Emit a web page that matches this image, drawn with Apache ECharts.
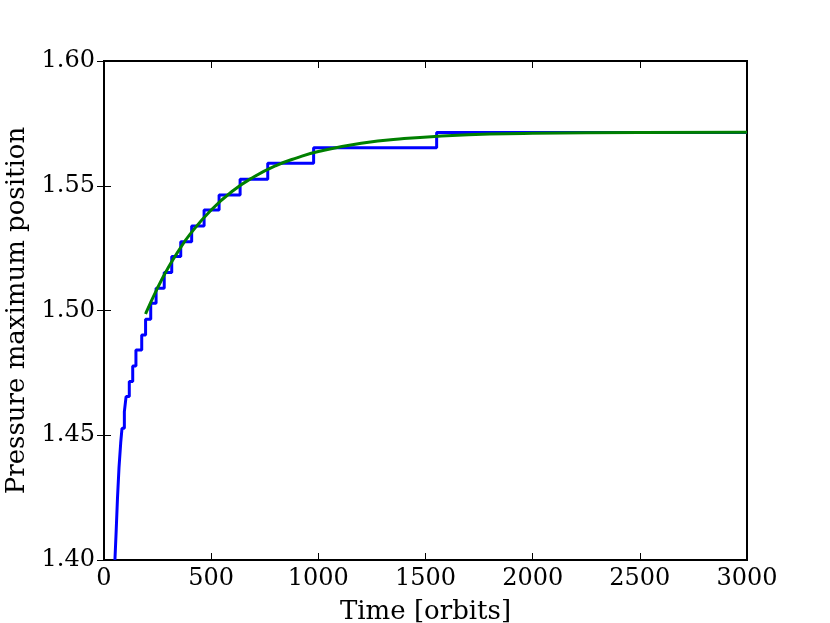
<!DOCTYPE html>
<html>
<head>
<meta charset="utf-8">
<script src="https://cdn.jsdelivr.net/npm/echarts@6/dist/echarts.min.js"></script>
<style>
  html, body { margin: 0; padding: 0; background: #fff; }
  #chart { width: 830px; height: 623px; }
</style>
</head>
<body>
<div id="chart"></div>
<script>
// step-wise measured position (blue): level starts at given time
const stepTimes = [51, 57, 63, 70, 78, 84, 95, 103, 118, 134, 149, 176, 194, 218, 243, 281, 316, 358,
    409, 467, 537, 635, 764, 978, 1552, 3000];
const stepLevels = [1.400, 1.412, 1.425, 1.437, 1.447, 1.4528, 1.4595, 1.4655, 1.4715, 1.4778, 1.4842,
    1.4902, 1.4965, 1.5029, 1.5089, 1.5152, 1.5216, 1.5276, 1.5339, 1.5403, 1.5463, 1.5526,
    1.5590, 1.5652, 1.5713, 1.5713];

// fitted curve (green)
const fitTimes = [194, 200, 250, 300, 350, 400, 500, 600, 700, 800, 900, 1000, 1200, 1400, 1600,
    1800, 2000, 2500, 3000];
const fitValues = [1.4986, 1.4998, 1.5091, 1.5172, 1.5242, 1.5304, 1.5403, 1.5479, 1.5536, 1.5580,
    1.5612, 1.5637, 1.5670, 1.5689, 1.5700, 1.5707, 1.5710, 1.5713, 1.5714];

const xTicks = [0, 500, 1000, 1500, 2000, 2500, 3000];
const yTicks = [1.40, 1.45, 1.50, 1.55, 1.60];

const font = 'DejaVu Serif';
const chart = echarts.init(document.getElementById('chart'));

const tickStyle = { show: true, inside: true, length: 7, lineStyle: { color: '#000', width: 1 } };

chart.setOption({
    animation: false,
    backgroundColor: '#fff',
    grid: {
        left: 104, right: 83, top: 61, bottom: 63,
        outerBoundsMode: 'none',
        containLabel: false,
        show: true, borderColor: '#000', borderWidth: 2, backgroundColor: 'transparent'
    },
    xAxis: [
        {
            type: 'value',
            min: xTicks[0],
            max: xTicks[xTicks.length - 1],
            interval: 500,
            name: 'Time [orbits]',
            nameLocation: 'middle',
            nameGap: 39,
            nameTextStyle: { fontFamily: font, fontSize: 26, color: '#000' },
            axisLine: { show: false },
            axisTick: tickStyle,
            splitLine: { show: false },
            axisLabel: {
                fontFamily: font, fontSize: 24, color: '#000', margin: 7,
                formatter: v => String(v)
            }
        },
        {
            type: 'value',
            position: 'top',
            min: xTicks[0],
            max: xTicks[xTicks.length - 1],
            interval: 500,
            axisLine: { show: false },
            axisTick: tickStyle,
            splitLine: { show: false },
            axisLabel: { show: false }
        }
    ],
    yAxis: [
        {
            type: 'value',
            min: yTicks[0],
            max: yTicks[yTicks.length - 1],
            interval: 0.05,
            name: 'Pressure maximum position',
            nameLocation: 'middle',
            nameGap: 70,
            nameTextStyle: { fontFamily: font, fontSize: 26, color: '#000' },
            axisLine: { show: false },
            axisTick: tickStyle,
            splitLine: { show: false },
            axisLabel: {
                fontFamily: font, fontSize: 24, color: '#000', margin: 9,
                formatter: v => v.toFixed(2)
            }
        },
        {
            type: 'value',
            position: 'right',
            min: yTicks[0],
            max: yTicks[yTicks.length - 1],
            interval: 0.05,
            axisLine: { show: false },
            axisTick: tickStyle,
            splitLine: { show: false },
            axisLabel: { show: false }
        }
    ],
    series: [
        {
            type: 'line',
            step: 'end',
            data: stepTimes.map((t, i) => [t, stepLevels[i]]),
            showSymbol: false,
            clip: true,
            lineStyle: { color: '#0000ff', width: 3 }
        },
        {
            type: 'line',
            smooth: true,
            data: fitTimes.map((t, i) => [t, fitValues[i]]),
            showSymbol: false,
            clip: true,
            lineStyle: { color: '#008000', width: 3 }
        }
    ]
});
</script>
</body>
</html>
